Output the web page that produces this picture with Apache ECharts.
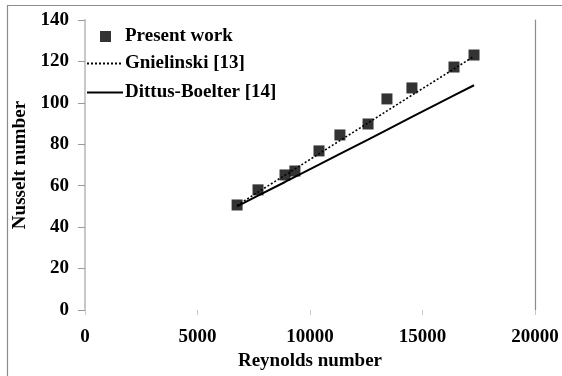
<!DOCTYPE html>
<html>
<head>
<meta charset="utf-8">
<script src="https://cdn.jsdelivr.net/npm/echarts@6/dist/echarts.min.js"></script>
<style>
html,body{margin:0;padding:0;background:#fff;}
#c{width:562px;height:376px;}
</style>
</head>
<body>
<div id="c"></div>
<script>
// Reynolds numbers of the measured points
var reynolds = [6760, 7690, 8890, 9330, 10400, 11330, 12580, 13420, 14530, 16400, 17290];
// Present work (measured Nusselt numbers)
var presentWork = [50.7, 58.0, 65.2, 67.1, 76.8, 84.5, 89.8, 101.9, 107.2, 117.3, 123.1];
// Gnielinski [13] correlation
var gnielinski = [50.5, 56.9, 65.1, 68.1, 75.4, 81.8, 90.3, 96.1, 103.7, 116.4, 122.5];
// Dittus-Boelter [14] correlation
var dittusBoelter = [50.0, 55.2, 61.8, 64.3, 70.2, 75.4, 82.3, 87.0, 93.2, 103.6, 108.5];

var seriesNames = ['Present work', 'Gnielinski [13]', 'Dittus-Boelter [14]'];
var xTicks = [0, 5000, 10000, 15000, 20000];
var yTicks = [0, 20, 40, 60, 80, 100, 120, 140];

function pairs(xs, ys){ return xs.map(function(x,i){ return [x, ys[i]]; }); }

var font = '"Liberation Serif", "Times New Roman", serif';
var legendText = {fontFamily:font, fontWeight:'bold', fontSize:19, color:'#000'};
var chart = echarts.init(document.getElementById('c'), null, {renderer:'canvas'});
chart.setOption({
  animation:false,
  backgroundColor:'#fff',
  textStyle:{fontFamily:font},
  grid:{left:85, right:27, top:20, bottom:66, containLabel:false, outerBoundsMode:'none'},
  graphic:[{
    type:'rect', silent:true,
    shape:{x:7.5, y:5.5, width:600, height:400},
    style:{fill:null, stroke:'#8c8c8c', lineWidth:1.2}
  }],
  legend:[{
    left:100, top:27, padding:0, itemWidth:11, itemHeight:11, icon:'rect',
    textStyle:Object.assign({padding:[0,0,0,9]}, legendText),
    data:[seriesNames[0]]
  },{
    left:86, top:54, padding:0, itemWidth:36, itemHeight:10,
    itemStyle:{opacity:0},
    textStyle:Object.assign({padding:[0,0,0,-3]}, legendText),
    data:[seriesNames[1]]
  },{
    left:86, top:83, padding:0, itemWidth:36, itemHeight:10,
    itemStyle:{opacity:0},
    textStyle:Object.assign({padding:[0,0,0,-3]}, legendText),
    data:[seriesNames[2]]
  }],
  xAxis:{
    type:'value', min:xTicks[0], max:xTicks[xTicks.length-1], interval:5000,
    name:'Reynolds number', nameLocation:'middle', nameGap:42,
    nameTextStyle:{fontFamily:font, fontWeight:'bold', fontSize:19, color:'#000'},
    axisLine:{show:false},
    axisTick:{show:true, length:5, lineStyle:{color:'#c8c8c8', width:1}},
    axisLabel:{margin:18, fontFamily:font, fontWeight:'bold', fontSize:19, color:'#000',
      formatter:function(v){ return String(v); }},
    splitLine:{show:false}
  },
  yAxis:[{
    type:'value', min:yTicks[0], max:yTicks[yTicks.length-1], interval:20,
    name:'Nusselt number', nameLocation:'middle', nameGap:49,
    nameTextStyle:{fontFamily:font, fontWeight:'bold', fontSize:19, color:'#000'},
    axisLine:{show:true, lineStyle:{color:'#c8c8c8', width:2}},
    axisTick:{show:true, length:7, lineStyle:{color:'#999', width:1}},
    axisLabel:{margin:16, fontFamily:font, fontWeight:'bold', fontSize:19, color:'#000'},
    splitLine:{show:false}
  },{
    type:'value', position:'right', min:yTicks[0], max:yTicks[yTicks.length-1], interval:20,
    axisLine:{show:true, lineStyle:{color:'#8c8c8c', width:1.2}},
    axisTick:{show:false}, axisLabel:{show:false}, splitLine:{show:false}
  }],
  series:[{
    name:seriesNames[0], type:'scatter', symbol:'rect', symbolSize:11,
    itemStyle:{color:'#000'}, z:5,
    data:pairs(reynolds, presentWork)
  },{
    name:seriesNames[1], type:'line', symbol:'none', showSymbol:false,
    lineStyle:{color:'#000', width:1.6, type:[2,2]},
    itemStyle:{color:'#000'},
    data:pairs(reynolds, gnielinski)
  },{
    name:seriesNames[2], type:'line', symbol:'none', showSymbol:false,
    lineStyle:{color:'#000', width:2},
    itemStyle:{color:'#000'},
    data:pairs(reynolds, dittusBoelter)
  }]
});
</script>
</body>
</html>
